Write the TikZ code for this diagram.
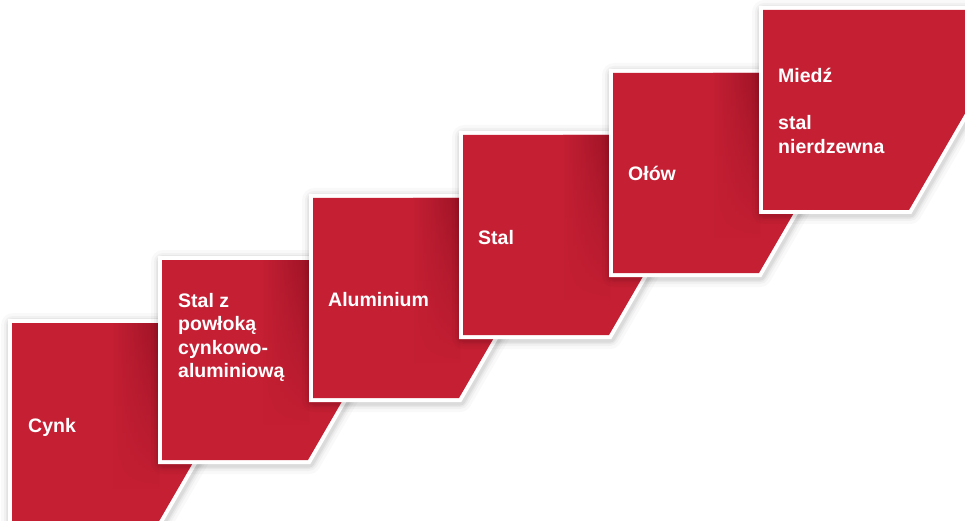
\documentclass[tikz,border=0pt]{standalone}
\usepackage{fontspec}
\setmainfont{Liberation Sans}
\usetikzlibrary{fadings}
\definecolor{cred}{RGB}{196,31,51}
\definecolor{cdark}{RGB}{158,19,38}
\tikzfading[name=fadedown, top color=transparent!0, middle color=transparent!10, bottom color=transparent!100]
\newcommand{\cardpath}[2]{(#1,#2) -- ++(204,0) -- ++(0,100) -- ++(-58,100) -- ++(-146,0) -- cycle}
\newcommand{\drawcard}[2]{%
  \foreach \w/\o in {24/0.025,18/0.03,14/0.04,11/0.05}{%
    \draw[black, line width=\w pt, opacity=\o, line join=round] \cardpath{#1+1}{#2+2};}
  \draw[white, fill=white, line width=8pt, line join=miter] \cardpath{#1}{#2};
  \fill[cred] \cardpath{#1}{#2};}
\newcommand{\bandcard}[2]{%
  \begin{scope}
    \clip \cardpath{#1}{#2};
    \shade[left color=cred, right color=cdark, path fading=fadedown] (#1+100,#2) rectangle (#1+147,#2+165);
  \end{scope}}
\tikzset{lbl/.style={text=white, font=\fontsize{19.5}{23.5}\selectfont\bfseries, inner sep=0pt, align=left, anchor=base west}}
\begin{document}
\begin{tikzpicture}[x=1pt,y=-1pt]
\useasboundingbox (0,0) rectangle (965,521);
\clip (0,0) rectangle (965,521);
\fill[white] (0,0) rectangle (965,521);
\drawcard{12}{323}\bandcard{12}{323}
\node[lbl] (t1) at (28,432) {Cynk};
\drawcard{162}{260}\bandcard{162}{260}
\node[lbl] (t2) at (178,377.5) {Stal z\\powłoką\\cynkowo-\\aluminiową};
\drawcard{313}{198}\bandcard{313}{198}
\node[lbl] (t3) at (328,306) {Aluminium};
\drawcard{463}{135}\bandcard{463}{135}
\node[lbl] (t4) at (478,244) {Stal};
\drawcard{613}{73}\bandcard{613}{73}
\node[lbl] (t5) at (628,181) {Ołów};
\drawcard{763}{10}
\node[lbl] (t6) at (778,153.5) {Miedź\\[23.5pt]stal\\nierdzewna};
\end{tikzpicture}
\end{document}
